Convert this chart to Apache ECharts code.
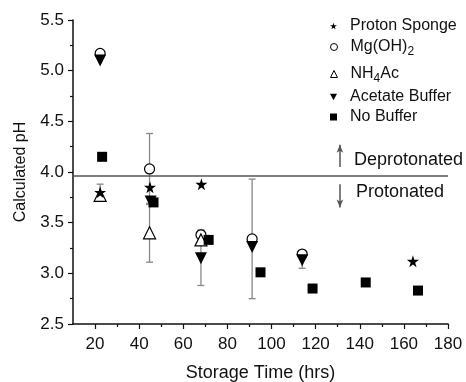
<!DOCTYPE html>
<html>
<head>
<meta charset="utf-8">
<script src="https://cdn.jsdelivr.net/npm/echarts@6/dist/echarts.min.js"></script>
<style>
  html, body { margin: 0; padding: 0; background: #fff; }
  #main { width: 466px; height: 382px; }
</style>
</head>
<body>
<div id="main"></div>
<script>
// data: [storage time (hrs), calculated pH]
const protonSponge = [[22.3, 3.80], [44.9, 3.85], [68.2, 3.88], [164.1, 3.12]];
const mgOH2 = [[22.3, 5.17], [44.7, 4.03], [68.0, 3.38], [91.2, 3.34], [113.9, 3.19]];
const nh4Ac = [[22.3, 3.77], [44.7, 3.40], [68.0, 3.33]];
const acetateBuffer = [[22.3, 5.10], [45.2, 3.71], [68.0, 3.15], [91.2, 3.26], [113.9, 3.13]];
const noBuffer = [[23.2, 4.15], [46.5, 3.70], [71.5, 3.33], [95.0, 3.01], [118.6, 2.85], [142.7, 2.91], [166.4, 2.83]];
// error bars: [x, low, high]
const errorBars = [
  [22.3, 3.72, 3.88], [44.7, 3.68, 4.38], [44.7, 3.11, 3.69],
  [68.0, 3.34, 3.43], [68.0, 2.88, 3.42], [91.2, 2.75, 3.93], [113.9, 3.05, 3.21]
];
const boundaryPH = 3.96;
const majorTicksX = [20, 40, 60, 80, 100, 120, 140, 160, 180];
const minorTicksX = [30, 50, 70, 90, 110, 130, 150, 170];
const seriesNames = ["Proton Sponge", "Mg(OH)2", "NH4Ac", "Acetate Buffer", "No Buffer"];

const FONT = "Liberation Sans";
const STAR = "path://M50,0 L61,35 L98,35 L68,57 L79,91 L50,70 L21,91 L32,57 L2,35 L39,35 Z";
const TRI_DOWN = "path://M0,0 L10,0 L5,9 Z";

const legendRows = [21, 40, 67, 92, 112];
const legendIcons = [STAR, "circle", "triangle", TRI_DOWN, "rect"];
const legends = seriesNames.map(function (name, i) {
  return {
    data: [{ name: name, icon: legendIcons[i] }],
    left: 325,
    top: legendRows[i] - 9,
    itemWidth: 7,
    itemHeight: 7,
    itemGap: 0,
    selectedMode: false,
    itemStyle: { borderWidth: 1 },
    textStyle: {
      fontFamily: FONT,
      fontSize: 16,
      color: "#111",
      lineHeight: 18,
      padding: [0, 0, 0, 8],
      rich: {
        sub: { fontSize: 12, fontFamily: FONT, color: "#111", lineHeight: 12, padding: [10, 0, 0, 0] }
      }
    },
    formatter: function (n) {
      if (n === "Mg(OH)2") return "Mg(OH){sub|2}";
      if (n === "NH4Ac") return "NH{sub|4}Ac";
      return n;
    }
  };
});

const option = {
  animation: false,
  backgroundColor: "#fff",
  legend: legends,
  grid: { left: 73, right: 18, top: 20, bottom: 58, containLabel: false, outerBoundsMode: "none" },
  xAxis: [
    {
      type: "value",
      min: 10,
      max: 180,
      name: "Storage Time (hrs)",
      nameLocation: "middle",
      nameGap: 40,
      nameTextStyle: { fontFamily: FONT, fontSize: 18, color: "#111" },
      axisLine: { lineStyle: { color: "#111", width: 1.5 } },
      axisTick: { length: 5, customValues: majorTicksX, lineStyle: { color: "#111", width: 1.2 } },
      axisLabel: { customValues: majorTicksX, margin: 12, fontFamily: FONT, fontSize: 17, color: "#111" },
      splitLine: { show: false }
    },
    {
      type: "value",
      min: 10,
      max: 180,
      position: "bottom",
      axisLine: { show: false },
      axisTick: { length: 3, customValues: minorTicksX, lineStyle: { color: "#111", width: 1.2 } },
      axisLabel: { show: false },
      splitLine: { show: false }
    }
  ],
  yAxis: {
    type: "value",
    min: 2.5,
    max: 5.5,
    interval: 0.5,
    name: "Calculated pH",
    nameLocation: "middle",
    nameGap: 44,
    nameTextStyle: { fontFamily: FONT, fontSize: 16, color: "#111" },
    axisLine: { show: true, lineStyle: { color: "#111", width: 1.5 } },
    axisTick: { show: true, length: 5, lineStyle: { color: "#111", width: 1.2 } },
    minorTick: { show: true, splitNumber: 2, length: 3, lineStyle: { color: "#111", width: 1.2 } },
    axisLabel: {
      margin: 9,
      fontFamily: FONT,
      fontSize: 17,
      color: "#111",
      formatter: function (v) { return v.toFixed(1); }
    },
    splitLine: { show: false }
  },
  series: [
    {
      name: "errors",
      type: "custom",
      z: 1,
      silent: true,
      data: errorBars,
      renderItem: function (params, api) {
        const x = api.value(0);
        const lo = api.coord([x, api.value(1)]);
        const hi = api.coord([x, api.value(2)]);
        const w = 3.5;
        const st = { stroke: "#888", lineWidth: 1.3 };
        return {
          type: "group",
          children: [
            { type: "line", shape: { x1: lo[0], y1: lo[1], x2: hi[0], y2: hi[1] }, style: st },
            { type: "line", shape: { x1: lo[0] - w, y1: lo[1], x2: lo[0] + w, y2: lo[1] }, style: st },
            { type: "line", shape: { x1: hi[0] - w, y1: hi[1], x2: hi[0] + w, y2: hi[1] }, style: st }
          ]
        };
      }
    },
    {
      name: "boundary",
      type: "line",
      data: [],
      z: 2,
      markLine: {
        silent: true,
        symbol: ["none", "none"],
        label: { show: false },
        lineStyle: { color: "#555", width: 1.5, type: "solid" },
        data: [
          { yAxis: boundaryPH },
          [{ coord: [131, 4.05], symbol: "none" }, { coord: [131, 4.27], symbol: "arrow", symbolSize: [5, 8] }],
          [{ coord: [131, 3.88], symbol: "none" }, { coord: [131, 3.65], symbol: "arrow", symbolSize: [5, 8] }]
        ]
      },
      markPoint: {
        silent: true,
        symbol: "circle",
        symbolSize: 0,
        label: {
          show: true,
          position: "right",
          distance: 0,
          formatter: "{b}",
          fontFamily: FONT,
          fontSize: 18,
          color: "#111"
        },
        data: [
          { name: "Deprotonated", coord: [137.4, 4.12] },
          { name: "Protonated", coord: [138.3, 3.80] }
        ]
      }
    },
    {
      name: "Proton Sponge",
      type: "scatter",
      z: 5,
      symbol: STAR,
      symbolSize: 12,
      itemStyle: { color: "#000", opacity: 1 },
      data: protonSponge
    },
    {
      name: "Mg(OH)2",
      type: "scatter",
      z: 4,
      symbol: "circle",
      symbolSize: 10,
      itemStyle: { color: "#fff", borderColor: "#000", borderWidth: 1.2, opacity: 1 },
      data: mgOH2
    },
    {
      name: "NH4Ac",
      type: "scatter",
      z: 4,
      symbol: "triangle",
      symbolSize: 12,
      itemStyle: { color: "#fff", borderColor: "#000", borderWidth: 1.2, opacity: 1 },
      data: nh4Ac
    },
    {
      name: "Acetate Buffer",
      type: "scatter",
      z: 5,
      symbol: "triangle",
      symbolRotate: 180,
      symbolSize: 12,
      itemStyle: { color: "#000", opacity: 1 },
      data: acetateBuffer
    },
    {
      name: "No Buffer",
      type: "scatter",
      z: 5,
      symbol: "rect",
      symbolSize: 10,
      itemStyle: { color: "#000", opacity: 1 },
      data: noBuffer
    }
  ]
};

const chart = echarts.init(document.getElementById("main"));
chart.setOption(option);
</script>
</body>
</html>
